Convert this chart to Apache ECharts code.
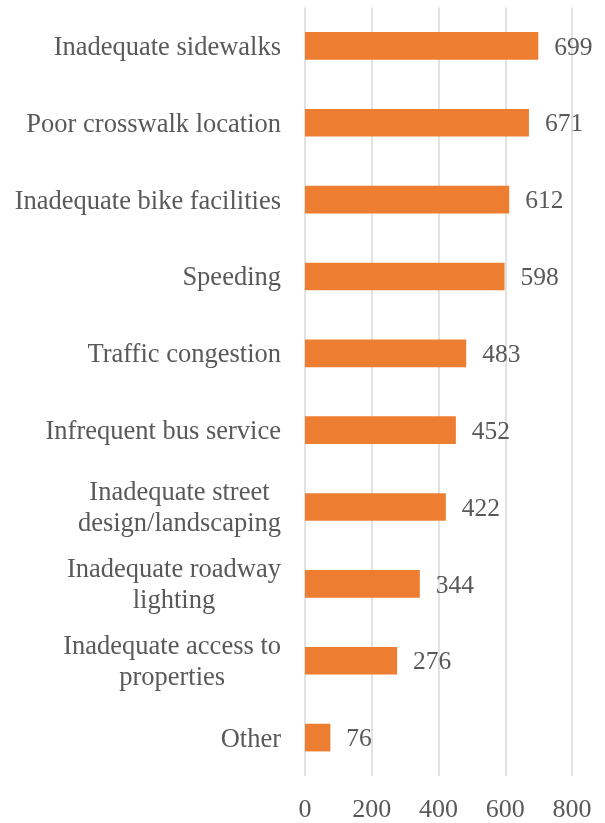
<!DOCTYPE html>
<html>
<head>
<meta charset="utf-8">
<script src="https://cdn.jsdelivr.net/npm/echarts@6/dist/echarts.min.js"></script>
<style>
  html, body { margin: 0; padding: 0; background: #ffffff; }
  #chart { width: 605px; height: 823px; }
</style>
</head>
<body>
<div id="chart"></div>
<script>
// Reported issues, listed top to bottom
const categories = [
  'Inadequate sidewalks',
  'Poor crosswalk location',
  'Inadequate bike facilities',
  'Speeding',
  'Traffic congestion',
  'Infrequent bus service',
  'Inadequate street\ndesign/landscaping',
  'Inadequate roadway\nlighting',
  'Inadequate access to\nproperties',
  'Other'
];
const counts = [699, 671, 612, 598, 483, 452, 422, 344, 276, 76];
const tickValues = [0, 200, 400, 600, 800];

const FONT = '"Liberation Serif", "Times New Roman", serif';
const TEXT = '#595959';

const chart = echarts.init(document.getElementById('chart'), null, { renderer: 'canvas' });

chart.setOption({
  animation: false,
  backgroundColor: '#ffffff',
  grid: { left: 305, right: 33, top: 7.5, bottom: 46.5, containLabel: false },
  xAxis: {
    type: 'value',
    min: tickValues[0],
    max: tickValues[tickValues.length - 1],
    interval: tickValues[1] - tickValues[0],
    axisLine: { show: false },
    axisTick: { show: false },
    splitLine: { show: true, lineStyle: { color: '#d9d9d9', width: 1.5 } },
    axisLabel: { color: TEXT, fontFamily: FONT, fontSize: 26, margin: 21 }
  },
  yAxis: {
    type: 'category',
    inverse: true,
    data: categories,
    axisLine: { show: false },
    axisTick: { show: false },
    splitLine: { show: false },
    axisLabel: {
      margin: 24,
      padding: [4, 0, 0, 0],
      color: TEXT,
      fontFamily: FONT,
      fontSize: 26.5,
      lineHeight: 31,
      // multi-line labels are centred on each other, block right-aligned to the axis
      formatter: function (v) {
        return v.split('\n').map(function (s) { return '{c|' + s + '}'; }).join('\n');
      },
      rich: {
        c: { align: 'center', color: TEXT, fontFamily: FONT, fontSize: 26.5, lineHeight: 31 }
      }
    }
  },
  series: [{
    type: 'bar',
    data: counts,
    barCategoryGap: '64%',
    itemStyle: { color: '#ED7D31' },
    label: {
      show: true,
      position: 'right',
      distance: 16,
      offset: [0, 2],
      color: TEXT,
      fontFamily: FONT,
      fontSize: 25.5
    }
  }]
});
</script>
</body>
</html>
